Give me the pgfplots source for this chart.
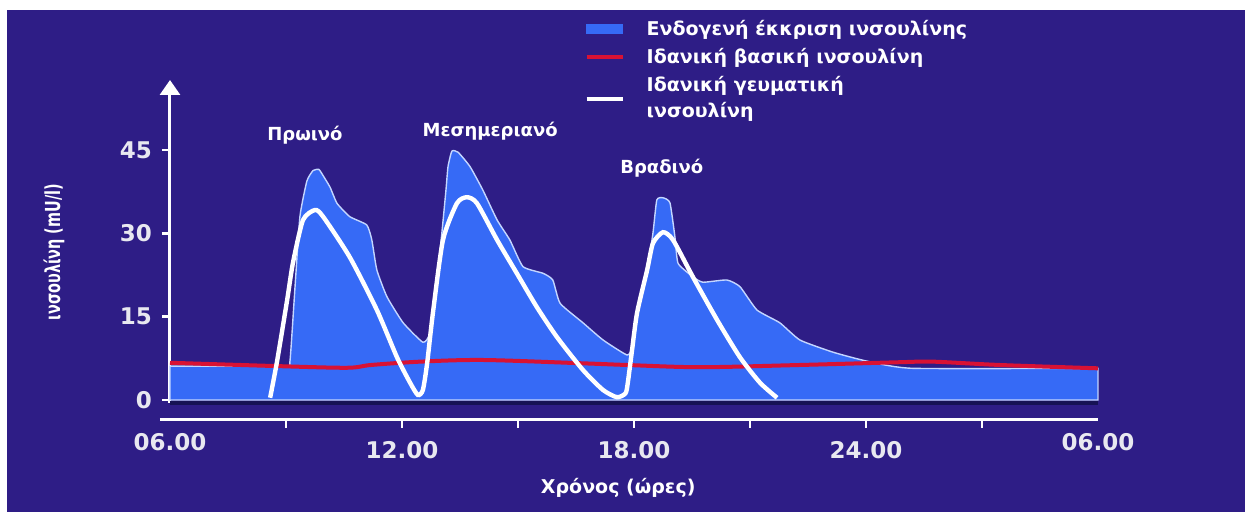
\documentclass[border=0pt]{standalone}
\usepackage{fontspec}
\setmainfont{DejaVu Sans}
\usepackage{pgfplots}
\pgfplotsset{compat=1.18}
\usetikzlibrary{arrows.meta}
\definecolor{bg}{RGB}{46,29,134}
\definecolor{fillblue}{RGB}{54,106,246}
\definecolor{edgeblue}{RGB}{196,214,255}
\definecolor{basred}{RGB}{216,18,52}
\definecolor{ticktxt}{RGB}{232,232,240}
\definecolor{shadow}{RGB}{22,18,84}
\begin{document}
\begin{tikzpicture}[x=0.5pt,y=0.5pt]
\useasboundingbox (0,0) rectangle (1250,512);
\fill[white] (0,0) rectangle (1250,512);
\fill[bg] (7,0) rectangle (1245,502);
\begin{axis}[
  at={(85pt,46pt)}, anchor=south west,
  scale only axis, width=464pt, height=170pt,
  xmin=6, xmax=30, ymin=-3.6, ymax=57.6,
  clip=false,
  axis x line*=bottom, axis y line*=left,
  x axis line style={white, line width=1.5pt, shorten <=-5pt},
  y axis line style={white, line width=1.5pt, shorten <=8.5pt, -{Triangle[width=10pt,length=7.5pt]}},
  xtick={9,12,...,27}, xticklabels={,12.00,,18.00,,24.00,},
  extra x ticks={6,30}, extra x tick labels={06.00,06.00},
  extra x tick style={major tick length=0pt},
  ytick={0,15,30,45},
  tick align=outside,
  major tick length=4pt,
  tick style={white, line width=1.2pt},
  ticklabel style={font=\bfseries\fontsize{11.5}{12}\selectfont, text=ticktxt},
  xticklabel style={yshift=-3pt},
  yticklabel style={xshift=-1.5pt},
  /pgf/number format/assume math mode=true,
  xlabel={Χρόνος (ώρες)},
  xlabel style={at={(axis description cs:0.483,-0.2)}, anchor=center, font=\bfseries\fontsize{9.5}{11}\selectfont, text=white},
  ylabel={\scalebox{0.8}[1.15]{ινσουλίνη (mU/l)}},
  ylabel style={at={(axis description cs:-0.125,0.494)}, anchor=center, font=\bfseries\fontsize{9}{10}\selectfont, text=white},
  legend style={at={(axis description cs:0.44,1.201)}, anchor=north west, draw=none, fill=none,
    font=\bfseries\fontsize{9.5}{13}\selectfont, text=white,
    cells={anchor=west, align=left}, row sep=1pt,
    /tikz/every odd column/.append style={column sep=9pt}},
]
\addplot[draw=shadow, line width=2pt, forget plot] coordinates {(6,-0.55) (30,-0.55)};
\addplot[fill=fillblue, draw=edgeblue, line width=0.7pt, smooth, tension=0.3,
  legend image code/.code={\fill[fillblue] (0pt,-2pt) rectangle (18pt,2pt);}]
coordinates {
(6.0,6.1) (8.97,6.1) (9.10,6.8) (9.23,20) (9.36,33) (9.54,39.4) (9.70,41.3) (9.85,41.5)
(9.95,40.5) (10.14,38.3) (10.32,35.4) (10.65,33) (11.09,31.5) (11.22,28.8) (11.35,23.4)
(11.61,18.6) (12.03,13.9) (12.54,10.4) (12.72,12) (12.88,20) (13.03,30) (13.14,38)
(13.19,42) (13.29,44.8) (13.45,44.6) (13.76,42) (14.09,37.8) (14.46,32.4) (14.79,28.8)
(15.13,24) (15.65,22.8) (15.90,21.6) (16.09,17.4) (16.68,13.9) (17.20,10.8) (17.82,8.1)
(17.95,9.5) (18.08,15.7) (18.34,23.4) (18.49,30) (18.59,36) (18.75,36.4) (18.93,35.5)
(19.06,29.3) (19.14,24.6) (19.52,22.2) (19.78,21.2) (20.40,21.6) (20.74,20.4) (21.18,16.2)
(21.77,13.9) (22.29,10.8) (23.15,8.6) (24.02,7.0) (25.21,5.7) (30.0,5.7)
} \closedcycle;
\addlegendentry{Ενδογενή έκκριση ινσουλίνης}
\addplot[basred, line width=2pt, smooth, tension=0.5,
  legend image code/.code={\draw[basred, line width=2pt] (0pt,0pt) -- (18pt,0pt);}]
coordinates {
(6.0,6.7) (8.77,6.1) (10.58,5.8) (11.2,6.3) (12.47,6.9) (14.09,7.2) (16.68,6.6)
(17.82,6.3) (19.71,5.9) (22.29,6.3) (24.88,6.8) (25.73,6.9) (27.46,6.3) (30.0,5.7)
};
\addlegendentry{Ιδανική βασική ινσουλίνη}
\addplot[white, line width=2.2pt, smooth, tension=0.4,
  legend image code/.code={\draw[white, line width=2pt] (0pt,0pt) -- (18pt,0pt);}]
coordinates {
(8.59,0.4) (8.77,7) (9.03,18) (9.18,24.7) (9.44,32.4) (9.75,34.2) (9.96,33) (10.65,25.7)
(11.35,16.2) (11.87,7.7) (12.21,3.1) (12.41,0.9) (12.54,1.8) (12.65,6.6) (12.80,15.7)
(13.06,28.8) (13.42,35.4) (13.68,36.5) (13.94,35.4) (14.46,28.8) (14.97,22.8) (15.49,16.7)
(16.01,11.3) (16.68,5.4) (17.20,1.8) (17.56,0.5) (17.78,1.2) (17.84,3.1) (17.95,9)
(18.08,15.7) (18.34,23.4) (18.49,28.2) (18.75,30.2) (19.01,28.8) (19.52,22.2) (20.15,14.4)
(20.74,7.7) (21.26,3.1) (21.70,0.4)
};
\addlegendentry{Ιδανική γευματική\\ινσουλίνη}
\node[font=\bfseries\fontsize{9}{10}\selectfont, text=white] at (axis cs:9.49,47.7) {Πρωινό};
\node[font=\bfseries\fontsize{9}{10}\selectfont, text=white] at (axis cs:14.28,48.4) {Μεσημεριανό};
\node[font=\bfseries\fontsize{9}{10}\selectfont, text=white] at (axis cs:18.72,41.8) {Βραδινό};
\end{axis}
\end{tikzpicture}
\end{document}
